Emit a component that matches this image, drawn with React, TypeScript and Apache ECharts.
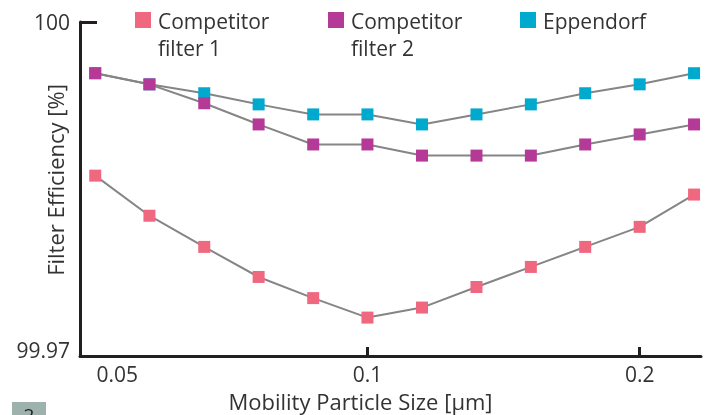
import React, { useEffect, useRef } from "react";
import * as echarts from "echarts";

const particleSizes = [0.05, 0.0574, 0.066, 0.0758, 0.0871, 0.1, 0.1149, 0.132, 0.1516, 0.1741, 0.2, 0.2297];
const competitor1 = [99.9862, 99.9826, 99.9798, 99.9771, 99.9752, 99.97345, 99.97435, 99.9762, 99.978, 99.9798, 99.9816, 99.9845];
const competitor2 = [99.9954, 99.9944, 99.9927, 99.9908, 99.989, 99.989, 99.988, 99.988, 99.988, 99.989, 99.9899, 99.9908];
const eppendorf = [99.9954, 99.9944, 99.9936, 99.9926, 99.9917, 99.9917, 99.9908, 99.9917, 99.9926, 99.9936, 99.9944, 99.9954];
const xTickLabels = ["0.05", "0.1", "0.2"];
const xTickValues = [0.1, 0.2];
const yTickLabels = ["99.97", "100"];
const seriesNames = ["Competitor\nfilter 1", "Competitor\nfilter 2", "Eppendorf"];
const xMin = 0.0481;
const xMax = 0.2338;

const FONT = "Open Sans";
const AXIS_COLOR = "#231F20";
const TEXT_COLOR = "#333333";
const COLORS = ["#F0687F", "#B53A97", "#00A9CE"];

export default function App() {
  const ref = useRef<HTMLDivElement>(null);
  useEffect(() => {
    if (!ref.current) return;
    const chart = echarts.init(ref.current, null, { renderer: "svg" });
    const lg = (v: number) => Math.log2(v);
    const mk = (vals: number[]) => particleSizes.map((s, i) => [lg(s), vals[i]]);
    const values = [competitor1, competitor2, eppendorf];
    const mkSeries = (idx: number) => ({
      name: seriesNames[idx],
      type: "line",
      data: mk(values[idx]),
      symbol: "rect",
      symbolSize: 12,
      showSymbol: true,
      lineStyle: { color: "#858585", width: 2 },
      itemStyle: { color: COLORS[idx] },
      emphasis: { disabled: true },
    });
    const legendX = [135, 328, 520];
    const legendGraphics: any[] = [];
    seriesNames.forEach((n, i) => {
      legendGraphics.push({
        type: "rect",
        shape: { x: legendX[i], y: 12, width: 16, height: 16 },
        style: { fill: COLORS[i] },
        silent: true,
      });
      legendGraphics.push({
        type: "text",
        x: legendX[i] + 23,
        y: 7,
        style: {
          text: n,
          fontFamily: FONT,
          fontSize: 21,
          lineHeight: 27,
          fill: TEXT_COLOR,
          align: "left",
          verticalAlign: "top",
        },
        silent: true,
      });
    });
    chart.setOption({
      animation: false,
      textStyle: { fontFamily: FONT },
      grid: { left: 80, right: 11, top: 22, bottom: 59, containLabel: false, outerBoundsMode: "none" },
      xAxis: {
        type: "value",
        min: lg(xMin),
        max: lg(xMax),
        name: "Mobility Particle Size [µm]",
        nameLocation: "middle",
        nameGap: 34,
        nameMoveOverlap: false,
        nameTextStyle: { fontFamily: FONT, fontSize: 22, color: TEXT_COLOR, padding: [0, 60, 0, 0] },
        axisLine: { lineStyle: { color: AXIS_COLOR, width: 3 } },
        axisTick: {
          show: true,
          inside: true,
          length: 9,
          lineStyle: { color: AXIS_COLOR, width: 3 },
          customValues: xTickValues.map(lg),
        },
        axisLabel: {
          customValues: [0.05, 0.1, 0.2].map(lg),
          margin: 7,
          fontFamily: FONT,
          fontSize: 21,
          lineHeight: 22,
          color: TEXT_COLOR,
          formatter: (v: number) => {
            const s = Math.pow(2, v);
            if (Math.abs(s - 0.05) < 0.001) return "{p|" + xTickLabels[0] + "}";
            if (Math.abs(s - 0.1) < 0.001) return xTickLabels[1];
            return xTickLabels[2];
          },
          rich: { p: { fontFamily: FONT, fontSize: 21, lineHeight: 22, color: TEXT_COLOR, padding: [0, 0, 0, 44] } },
        },
        splitLine: { show: false },
      },
      yAxis: {
        type: "value",
        min: 99.97,
        max: 100,
        name: "Filter Efficiency [%]",
        nameLocation: "middle",
        nameGap: 14,
        nameMoveOverlap: false,
        nameTextStyle: { fontFamily: FONT, fontSize: 22, color: TEXT_COLOR, padding: [0, 0, 0, 18] },
        axisLine: { show: true, lineStyle: { color: AXIS_COLOR, width: 3 } },
        axisTick: {
          show: true,
          inside: true,
          length: 17,
          lineStyle: { color: AXIS_COLOR, width: 3 },
          customValues: [100],
        },
        axisLabel: {
          customValues: [99.97, 100],
          margin: 10,
          fontFamily: FONT,
          fontSize: 21,
          color: TEXT_COLOR,
          formatter: (v: number) => (v > 99.99 ? yTickLabels[1] : "{b|" + yTickLabels[0] + "}"),
          rich: { b: { fontFamily: FONT, fontSize: 21, color: TEXT_COLOR, padding: [0, 0, 13, 0] } },
        },
        splitLine: { show: false },
      },
      graphic: [
        ...legendGraphics,
        { type: "rect", shape: { x: 12, y: 402, width: 34, height: 13 }, style: { fill: "#9DB2AC" }, silent: true },
        {
          type: "text",
          x: 29,
          y: 405,
          style: { text: "2", fontFamily: FONT, fontSize: 19, fill: "#222", align: "center", verticalAlign: "top" },
          silent: true,
        },
      ],
      series: [mkSeries(2), mkSeries(1), mkSeries(0)],
    });
    return () => chart.dispose();
  }, []);
  return <div ref={ref} style={{ position: "fixed", left: 0, top: 0, width: 712, height: 415 }} />;
}
